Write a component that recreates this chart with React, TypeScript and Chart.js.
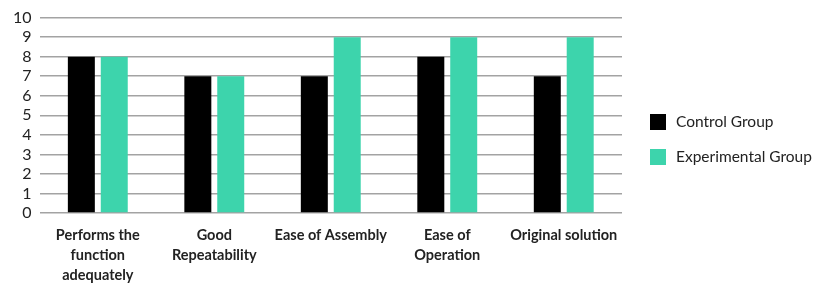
import React, { useEffect, useRef } from "react";
import { Chart, registerables } from "chart.js";

Chart.register(...registerables);

const categories: (string | string[])[] = [
  ["Performs the", "function", "adequately"],
  ["Good", "Repeatability"],
  "Ease of Assembly",
  ["Ease of", "Operation"],
  "Original solution",
];
const controlGroup = [8, 7, 7, 8, 7];
const experimentalGroup = [8, 7, 9, 9, 9];
const seriesNames = ["Control Group", "Experimental Group"];
const seriesColors = ["#000000", "#3dd4ac"];

const FONT = "Lato, 'Open Sans', sans-serif";

const sideLegend = {
  id: "sideLegend",
  afterDraw(chart: any) {
    const { ctx, chartArea } = chart;
    const x0 = chartArea.right + 28;
    const yc = chart.height / 2 - 3;
    const gap = 35;
    ctx.save();
    ctx.font = `15.5px ${FONT}`;
    ctx.textBaseline = "middle";
    ctx.textAlign = "left";
    chart.data.datasets.forEach((ds: any, i: number) => {
      const y = yc + (i - (chart.data.datasets.length - 1) / 2) * gap;
      ctx.fillStyle = ds.backgroundColor;
      ctx.fillRect(x0, y - 8, 16, 16);
      ctx.fillStyle = "#222";
      ctx.fillText(ds.label, x0 + 26, y);
    });
    ctx.restore();
  },
};

export default function App() {
  const ref = useRef<HTMLCanvasElement | null>(null);
  useEffect(() => {
    document.body.style.margin = "0";
    const ctx = ref.current!;
    const chart = new Chart(ctx, {
      type: "bar",
      data: {
        labels: categories,
        datasets: [
          {
            label: seriesNames[0],
            data: controlGroup,
            backgroundColor: seriesColors[0],
            categoryPercentage: 0.565,
            barPercentage: 0.82,
          },
          {
            label: seriesNames[1],
            data: experimentalGroup,
            backgroundColor: seriesColors[1],
            categoryPercentage: 0.565,
            barPercentage: 0.82,
          },
        ],
      },
      options: {
        animation: false,
        responsive: false,
        maintainAspectRatio: false,
        layout: { padding: { left: 5, right: 198, top: 6, bottom: 0 } },
        plugins: {
          tooltip: { enabled: false },
          legend: { display: false },
        },
        scales: {
          x: {
            grid: { display: false, drawTicks: false },
            border: { display: false },
            afterFit: (axis: any) => {
              axis.height = 72;
            },
            ticks: {
              color: "#222",
              padding: 13,
              maxRotation: 0,
              autoSkip: false,
              font: { family: FONT, size: 14.5, weight: "bold", lineHeight: 1.35 },
            },
          },
          y: {
            min: 0,
            max: 10,
            grid: { color: "#a3a3a3", lineWidth: 1.5, drawTicks: false },
            border: { display: false },
            ticks: {
              stepSize: 1,
              autoSkip: false,
              color: "#222",
              padding: 8,
              font: { family: FONT, size: 16 },
            },
          },
        },
      },
      plugins: [sideLegend],
    });
    return () => chart.destroy();
  }, []);
  return (
    <div style={{ width: 820, height: 285 }}>
      <canvas ref={ref} width={820} height={285} />
    </div>
  );
}
